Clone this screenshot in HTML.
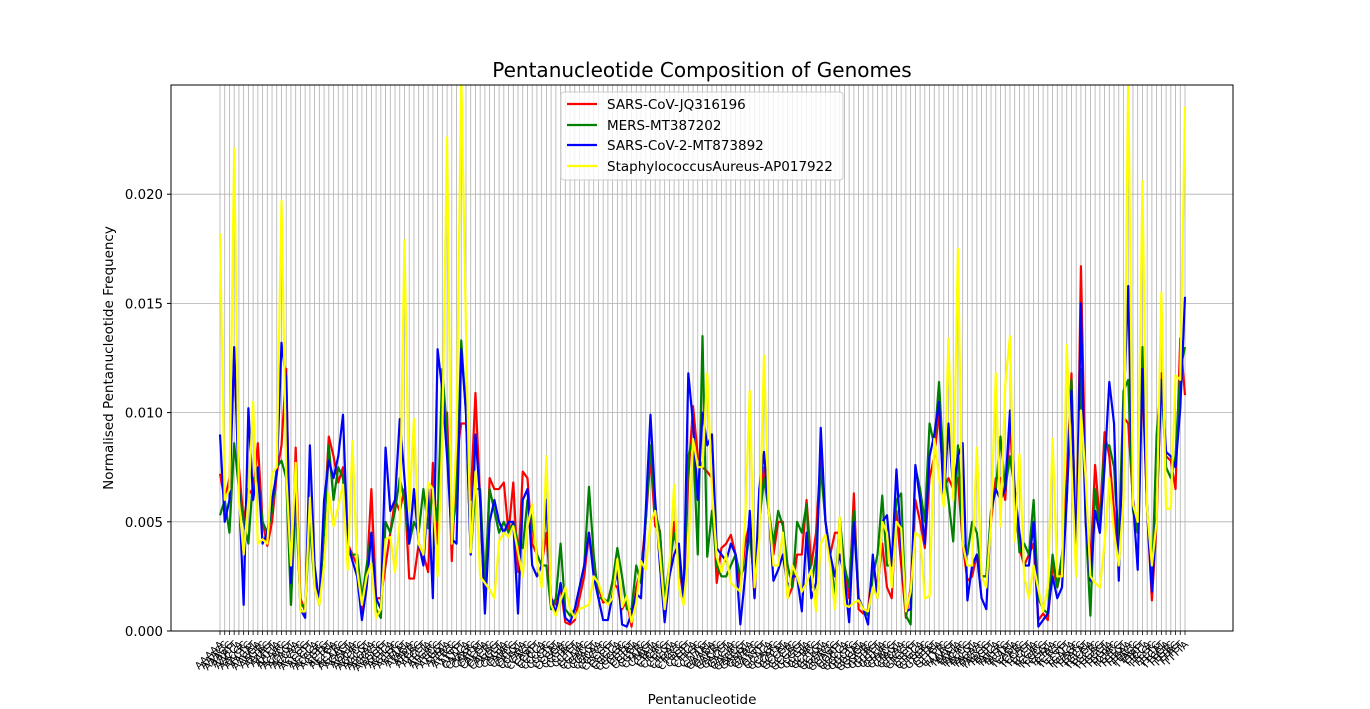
<!DOCTYPE html>
<html><head><meta charset="utf-8"><title>Pentanucleotide Composition of Genomes</title>
<style>
html,body{margin:0;padding:0;background:#fff;}
svg{display:block;font-family:"DejaVu Sans","Liberation Sans",sans-serif;}
</style></head>
<body>
<svg id="chart" width="1370" height="709" viewBox="0 0 1370 709" xmlns="http://www.w3.org/2000/svg">
  <rect x="0" y="0" width="1370" height="709" fill="#fff"/>
  <text x="702" y="77" font-size="20" text-anchor="middle" fill="#000">Pentanucleotide Composition of Genomes</text>
  <g id="grid"></g>
  <g id="series"></g>
  <rect x="171" y="85" width="1062" height="546" fill="none" stroke="#000" stroke-width="1"/>
  <g id="yticks"></g>
  <g id="xticks"></g>
  <text x="0" y="0" transform="translate(113,358) rotate(-90)" font-size="13.5" text-anchor="middle">Normalised Pentanucleotide Frequency</text>
  <text x="702" y="704" font-size="13.5" text-anchor="middle">Pentanucleotide</text>
  <g>
    <rect x="561" y="92" width="282" height="88" rx="3" fill="#fff" fill-opacity="0.8" stroke="#ccc"/>
    <g><line x1="567" y1="104" x2="597" y2="104" stroke="#ff0000" stroke-width="2.2"/><text x="607" y="109" font-size="13.5">SARS-CoV-JQ316196</text></g>
    <g><line x1="567" y1="125" x2="597" y2="125" stroke="#008000" stroke-width="2.2"/><text x="607" y="130" font-size="13.5">MERS-MT387202</text></g>
    <g><line x1="567" y1="145" x2="597" y2="145" stroke="#0000ff" stroke-width="2.2"/><text x="607" y="150" font-size="13.5">SARS-CoV-2-MT873892</text></g>
    <g><line x1="567" y1="166" x2="597" y2="166" stroke="#ffff00" stroke-width="2.2"/><text x="607" y="171" font-size="13.5">StaphylococcusAureus-AP017922</text></g>
  </g>
</svg>
<script>
// values in units of 1e-3
const bases = ["A","C","G","T"];
const categories = Array.from({length:205}, function(_, i){ let n=i*5, s=""; for(let k=0;k<5;k++){ s = bases[n%4] + s; n = Math.floor(n/4);} return s; });
const sarsCov = [7.2,6,7,12.5,7.5,5,6.5,6.2,8.6,5, 3.9,5,7.2,8.5,12,1.2,8.4,1.5,0.9,6, 2.5,1.3,5,8.9,8,6.8,7.5,4,3.5,3, 0.7,2.5,6.5,1.5,1.5,3,4.5,6,5.5,6.5, 2.4,2.4,4,3.5,2.7,7.7,4,9.5,10,3.2, 8,9.5,9.5,6,10.9,6,1,7,6.5,6.5, 6.8,4.5,6.8,2.7,7.3,7,4,3.5,3,4.5, 1.5,1.2,2,0.4,0.3,0.5,1.5,2.5,4.5,3, 2,1.3,1.4,2.2,2,1,1.4,0.2,2,2.8, 5,8,4.8,4.6,1.2,2.5,5,3,1.5,7, 10.3,8,7.5,7.3,7,2.2,3.8,4,4.4,3.5, 2,4,5,1.5,5.5,7.5,5.5,3.5,5,5, 1.5,2,3.5,3.5,6,3,4.5,8,5,3.5, 4.5,4.5,3,1.5,6.3,1,0.8,1,3,2, 4,2,1.5,5.5,3,0.6,2,6,5,3.8, 7,8,10,6.5,7,6.5,7,4,2.3,2.5, 3.5,2.5,2.5,5,7,7,6,9.5,6,3.8, 3,3.5,4,0.5,0.8,0.5,3,2,3,7, 11.8,3,16.7,6.5,3,7.6,5,9.1,8,5.5, 3,9.8,9.5,6,4.5,11.5,5.5,1.4,5,11.8, 8,7.8,6.5,13.4,10.8];
const mers = [5.3,6,4.5,8.6,6.5,5,4,7,7,5, 4.5,5.5,7.5,7.8,7,1.2,6,1.3,1,5, 2,1.2,4.5,8.5,6,7.5,7,3.5,3.5,3.5, 1.5,3,4.5,1,0.6,5,4.5,5.5,7,6, 4,5,4.5,6.5,4.7,6.5,5,12,9,4.5, 6,13.3,10,3.5,6.5,6.5,2,6.5,5.5,4.5, 5,4.5,5,4,3.8,6,5,3.5,3,3, 1,1.5,4,1,0.7,1,2,3,6.6,3.5, 1.5,1.5,1.3,2.3,3.8,2.5,1,1,3,2.2, 5,8.5,5.5,4.5,1.5,3,4.5,3.5,1.5,8, 8.8,3.5,13.5,3.4,5.5,3,2.5,2.5,3,3.5, 2.5,3,4.5,2,5,7,5.5,4,5.5,4.8, 3,2,5,4.5,5.8,2,3.5,7.5,5,3.5, 1.5,5.2,3,2,5.5,1.5,1,0.7,2.5,3.5, 6.2,3,3,6,6.3,0.7,0.3,7.5,6.5,5, 9.5,8.5,11.4,7.5,6,4.1,8.5,4,3.5,5, 4.5,2.5,2.5,5.5,6.5,8.9,6.5,8,6.5,3.6, 4,3.5,6,1.5,1,0.8,3.5,2,3.5,6, 11.5,3,12,5,0.7,6.5,4.5,8.5,8.5,7.5, 4,11,11.5,5.5,4.5,13,5.5,2,9,11.5, 7.5,7,8,12,13];
const sarsCov2 = [9,5,6,13,6.5,1.2,10.2,6,7.5,4, 4.5,6,7.2,13.2,11.5,2.2,7,1,0.6,8.5, 3,1.2,6,7.8,7,8,9.9,4,3.2,2.5, 0.5,2,4.5,1.5,1,8.4,5.5,6,9.7,7, 4,6.5,4,3,6.5,1.5,12.9,11,8,4.2, 4,12.9,10,3.5,9,6,0.8,5,6,5, 4.5,5,5,0.8,6,6.5,3,2.5,3,6, 1.5,0.8,2.2,0.6,0.4,1,2,3,4.5,2.5, 1.5,0.5,0.5,1.7,2.8,0.3,0.2,0.8,1.7,1.5, 5.5,9.9,6,3,0.4,2.5,3.5,4,1.5,11.8, 9.5,6,10,8.5,9,3.8,3.5,3.2,4,3.5, 0.3,2.5,5.5,1.5,6.5,8.2,5.5,2.3,2.8,3.5, 2,2.5,2.5,0.9,4.5,1.5,2.2,9.3,5,3.5, 2.5,3.5,2.5,0.4,5,1.5,1,0.3,3.5,1.5, 5,5.3,3,7.4,4,0.9,1,7.6,6,4, 8,9,10.5,6,9.5,6.5,8,8.6,1.4,3, 3.5,1.5,1,5.5,6.5,6,6.5,10.1,6.5,4.5, 3,3,5,0.2,0.5,0.8,2.5,1.5,2,6, 11,3,15,5,2.3,5.5,4.5,7.5,11.4,9.5, 2.3,10,15.8,6,2.8,12,5.5,1.8,5.5,11.5, 8.2,8,7.5,10.2,15.3];
const staph = [18.2,6,6.5,22.1,6,3.5,6,10.5,4,4.2, 4,7.2,7.5,19.7,7.2,3,7.7,0.9,0.9,6.1, 2,1.2,3,6.3,4.8,5.7,6.7,2.8,8.7,2.8, 1.2,2.5,3.1,0.6,1,4.2,4.3,2.7,5,17.9, 5.5,9.7,4,3.5,6.8,6.5,2.5,9,22.6,4, 8.9,25.5,13.8,3.6,7.3,2.5,2.2,1.9,1.5,4.1, 4.5,4.3,4.8,3.6,2.5,4.8,5.8,3.2,2,8, 1.2,0.7,1.4,2,1,0.6,1,1.1,1.2,2.5, 2.2,1.5,1.2,1.5,3.3,1.1,1.6,0.4,1.3,3.2, 2.8,5,5.5,3.5,1,3,6.7,2,1.2,3.5, 8.8,7.5,7.5,11.8,6.5,3.4,2.7,3.5,2.2,2, 1.8,5,11,2,4.2,12.6,5.5,3,3,4.5, 1.5,3,2.5,1.8,2.2,2.8,0.9,4,4.4,3, 1,5.2,1.2,1.1,1.3,1.4,1,0.9,2,1.5, 5,4.5,2,5,4.7,0.9,1.8,4.5,4.3,1.5, 1.6,8.8,7,5.7,13.4,6,17.5,4,3,3, 8.4,2.5,2,5,11.8,4.8,11.3,13.5,4.1,8.1, 2.5,1.5,3,1.9,0.9,2,8.8,2.5,2.5,13.1, 7.5,2.5,10.1,7,2.5,2.2,2,4,7,4.5, 3,6,25.5,5.8,5,20.6,5.5,3,5,15.5, 5.6,5.6,11.7,11.5,24];
const yTickValues = [0, 0.005, 0.010, 0.015, 0.020];
const yTickLabels = ["0.000","0.005","0.010","0.015","0.020"];

const NS="http://www.w3.org/2000/svg";
const plotL=171, plotR=1233, plotT=85, plotB=631;
const yMax=0.025;
const n=categories.length;
const dataL=220, dataR=1185;
function xScale(i){ return dataL + (dataR-dataL)*i/(n-1); }
function yScale(v){ return plotB - (plotB-plotT)*v/yMax; }

const grid=document.getElementById('grid');
const xt=document.getElementById('xticks');
for(let i=0;i<n;i++){
  const x=xScale(i);
  const gl=document.createElementNS(NS,'line');
  gl.setAttribute('x1',x);gl.setAttribute('x2',x);gl.setAttribute('y1',plotT);gl.setAttribute('y2',plotB);
  gl.setAttribute('stroke','#b0b0b0');gl.setAttribute('stroke-width','0.8');
  
  
  grid.appendChild(gl);
  const tk=document.createElementNS(NS,'line');
  tk.setAttribute('x1',x);tk.setAttribute('x2',x);tk.setAttribute('y1',plotB);tk.setAttribute('y2',plotB+4);
  tk.setAttribute('stroke','#000');tk.setAttribute('stroke-width','0.8');
  
  
  xt.appendChild(tk);
  const t=document.createElementNS(NS,'text');
  t.setAttribute('x',0);t.setAttribute('y',0);
  t.setAttribute('transform','translate('+(x+4)+','+(plotB+14)+') rotate(-45)');
  t.setAttribute('font-size','10');t.setAttribute('text-anchor','end');
  
  
  t.textContent=categories[i];
  xt.appendChild(t);
}
const yt=document.getElementById('yticks');
for(let k=0;k<yTickValues.length;k++){
  const y=yScale(yTickValues[k]);
  const gl=document.createElementNS(NS,'line');
  gl.setAttribute('x1',plotL);gl.setAttribute('x2',plotR);gl.setAttribute('y1',y);gl.setAttribute('y2',y);
  gl.setAttribute('stroke','#b0b0b0');gl.setAttribute('stroke-width','0.8');
  
  
  grid.appendChild(gl);
  const tk=document.createElementNS(NS,'line');
  tk.setAttribute('x1',plotL-4);tk.setAttribute('x2',plotL);tk.setAttribute('y1',y);tk.setAttribute('y2',y);
  tk.setAttribute('stroke','#000');
  
  
  yt.appendChild(tk);
  const t=document.createElementNS(NS,'text');
  t.setAttribute('x',plotL-8);t.setAttribute('y',y+5);
  t.setAttribute('font-size','13.3');t.setAttribute('text-anchor','end');
  
  
  t.textContent=yTickLabels[k];
  yt.appendChild(t);
}
const seriesG=document.getElementById('series');
const seriesList=[[sarsCov,'#ff0000','line-sars-cov'],[mers,'#008000','line-mers'],[sarsCov2,'#0000ff','line-sars-cov-2'],[staph,'#ffff00','line-staphylococcus-aureus']];
const clip=document.createElementNS(NS,'clipPath');
clip.setAttribute('id','plotclip');
const cr=document.createElementNS(NS,'rect');
cr.setAttribute('x',plotL);cr.setAttribute('y',plotT);cr.setAttribute('width',plotR-plotL);cr.setAttribute('height',plotB-plotT);
clip.appendChild(cr);
document.getElementById('chart').appendChild(clip);
seriesG.setAttribute('clip-path','url(#plotclip)');
for(const s of seriesList){
  const vals=s[0];
  let d='';
  for(let i=0;i<vals.length;i++){ d+=(i?'L':'M')+xScale(i).toFixed(2)+','+yScale(vals[i]*0.001).toFixed(2); }
  const p=document.createElementNS(NS,'path');
  p.setAttribute('d',d);p.setAttribute('fill','none');p.setAttribute('stroke',s[1]);
  p.setAttribute('stroke-width','2.2');p.setAttribute('stroke-linejoin','round');
  
  
  seriesG.appendChild(p);
}
</script>
</body></html>
